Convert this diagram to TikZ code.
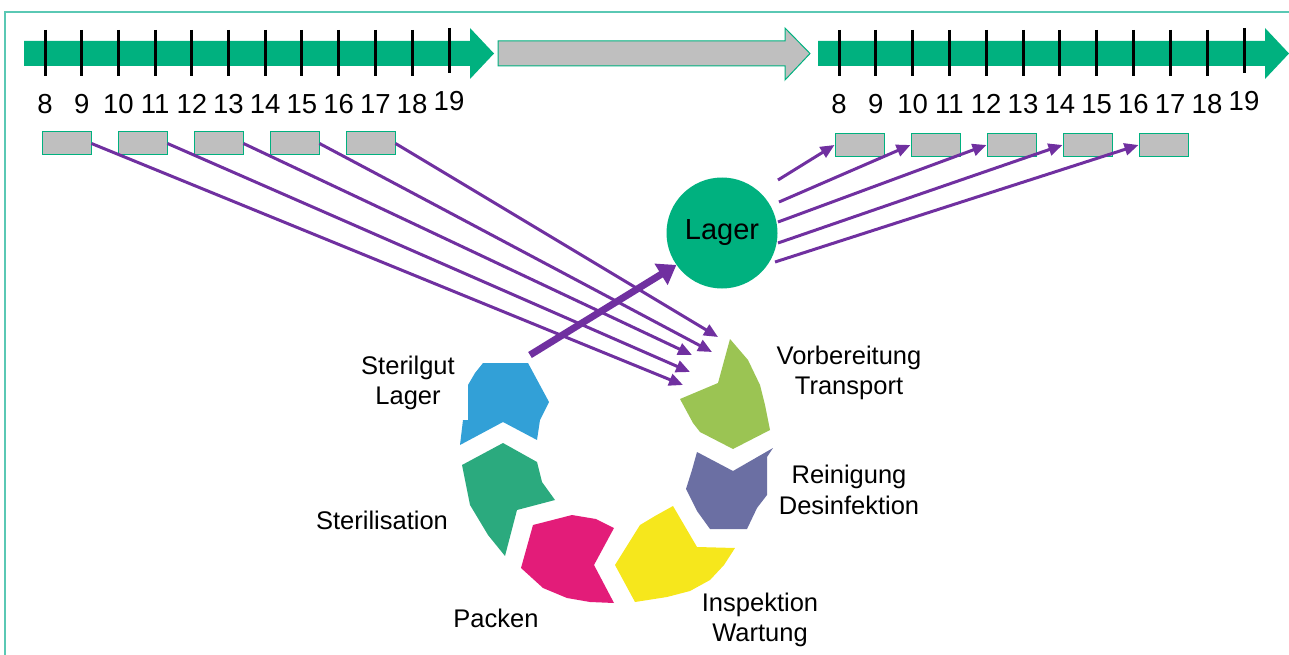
\documentclass[tikz,border=0pt]{standalone}
\usepackage{fontspec}
\setmainfont{Liberation Sans}
\usetikzlibrary{arrows.meta}
\definecolor{tgreen}{RGB}{0,177,127}
\definecolor{framec}{RGB}{90,200,180}
\definecolor{pur}{RGB}{112,48,160}
\definecolor{gbox}{RGB}{191,191,191}
\definecolor{cblue}{RGB}{50,160,215}
\definecolor{cgreen}{RGB}{43,170,126}
\definecolor{cmag}{RGB}{227,28,121}
\definecolor{cyel}{RGB}{246,231,28}
\definecolor{cviol}{RGB}{107,111,163}
\definecolor{clime}{RGB}{155,196,83}
\begin{document}
\begin{tikzpicture}[x=1pt,y=-1pt,
  lbl/.style={font=\fontsize{25.5}{30.5}\selectfont, align=center, inner sep=0pt},
  num/.style={font=\fontsize{27.5}{30}\selectfont, inner sep=0pt},
  tickln/.style={line width=3pt, black},
  gbx/.style={draw=tgreen, fill=gbox, line width=1pt, minimum width=49pt, minimum height=23pt, inner sep=0pt},
  parrow/.style={draw=pur, line width=3pt, -{Triangle[length=14pt,width=12pt]}},
  thick arrow/.style={draw=pur, line width=7pt, -{Triangle[length=18pt,width=24pt]}}]
\useasboundingbox (0,0) rectangle (1289,655);
% frame
\draw[framec, line width=2pt] (5,655) -- (5,12) -- (1289,12);
% left timeline
\fill[tgreen] (24,41)--(470,41)--(470,28)--(494,53.5)--(470,79)--(470,66)--(24,66)--cycle;
\foreach \i in {0,...,10} \draw[tickln] (45+36.7*\i,30) -- ++(0,46);
\draw[tickln] (449,28) -- (449,73);
\foreach \n [count=\i from 0] in {8,...,18} \node[num] (ln\n) at (45+36.7*\i,104) {\n};
\node[num] (ln19) at (449,101) {19};
% gray arrow
\filldraw[fill=gbox, draw=tgreen, line width=1pt] (498,41)--(785,41)--(785,28)--(810,53.5)--(785,80)--(785,66)--(498,66)--cycle;
% right timeline
\fill[tgreen] (818,41)--(1265,41)--(1265,28)--(1289,53.5)--(1265,79)--(1265,66)--(818,66)--cycle;
\foreach \i in {0,...,10} \draw[tickln] (839+36.8*\i,30) -- ++(0,46);
\draw[tickln] (1244,28) -- (1244,73);
\foreach \n [count=\i from 0] in {8,...,18} \node[num] (rn\n) at (839+36.8*\i,104) {\n};
\node[num] (rn19) at (1244,101) {19};
% boxes
\foreach \k [count=\i from 0] in {1,...,5} {
  \node[gbx] (l\k) at (66.5+76*\i,143.5) {};
  \node[gbx] (r\k) at (859.5+76*\i,145) {};
}
% Lager
\node[circle, fill=tgreen, minimum size=111pt, inner sep=0pt, font=\fontsize{29}{32}\selectfont] (lager) at (722,233) {Lager};
% cycle pieces
\fill[cblue] (483,363)--(528,363)--(549,402)--(540,420)--(537,440)--(503,422)--(460,445)--(463,420)--(468,420)--(468,385)--(475,373)--cycle;
\fill[cgreen] (503,443)--(537,462)--(542,482)--(555,500)--(517,510)--(505,556)--(488,535)--(470,505)--(462,465)--cycle;
\fill[cmag] (533,525)--(572,515)--(596,519)--(614,528)--(594,565)--(614,603)--(590,602)--(567,598)--(543,588)--(521,568)--cycle;
\fill[cyel] (673,506)--(697,547)--(735,548)--(724,565)--(710,580)--(690,591)--(667,597)--(635,602)--(615,565)--(640,525)--(655,516)--cycle;
\fill[cviol] (697,452)--(733,471)--(773,448)--(767,457)--(767,495)--(757,508)--(747,529)--(710,529)--(697,511)--(686,489)--(692,470)--cycle;
\fill[clime] (730,339)--(748,360)--(760,385)--(765,405)--(770,430)--(733,449)--(700,432)--(693,423)--(680,399)--(718,383)--cycle;
% labels
\node[lbl] (t1) at (408,383) {Sterilgut\\Lager};
\node[lbl] (t2) at (849,373) {Vorbereitung\\Transport};
\node[lbl] (t3) at (849,490) {Reinigung\\Desinfektion};
\node[lbl] (t4) at (382,520) {Sterilisation};
\node[lbl] (t5) at (496,618) {Packen};
\node[lbl] (t6) at (760,620) {Inspektion\\Wartung};
% arrows into cycle
\coordinate (e1) at (683,385);
\coordinate (e2) at (690,372);
\coordinate (e3) at (692,355);
\coordinate (e4) at (712,352);
\coordinate (e5) at (718,337);
\draw[parrow] (l1.east) -- (e1);
\draw[parrow] (l2.east) -- (e2);
\draw[parrow] (l3.east) -- (e3);
\draw[parrow] (l4.east) -- (e4);
\draw[parrow] (l5.east) -- (e5);
% arrows out of Lager
\coordinate (s1) at (778,180);
\coordinate (s2) at (779,202);
\coordinate (s3) at (778,222);
\coordinate (s4) at (778,243);
\coordinate (s5) at (775,262);
\foreach \k in {1,...,5} \draw[parrow] (s\k) -- (r\k.west);
% thick arrow
\coordinate (tstart) at (530,355);
\draw[thick arrow] (tstart) -- (lager.215);
\end{tikzpicture}
\end{document}
